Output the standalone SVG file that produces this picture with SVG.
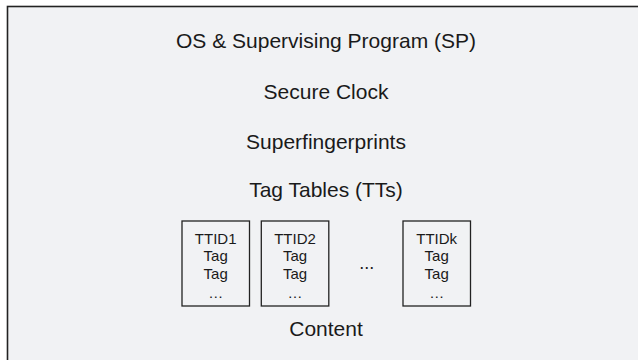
<svg xmlns="http://www.w3.org/2000/svg" width="638" height="360" viewBox="0 0 638 360">
  <style>
    .t { font-family: "Liberation Sans", Arial, sans-serif; fill: #1a1a1a; text-anchor: middle; }
    .big { font-size: 21px; }
    .small { font-size: 15px; }
    .box { fill: none; stroke: #222; stroke-width: 1.3; }
  </style>
  <rect width="638" height="360" fill="#ffffff"/>
  <g id="container">
    <rect x="7.5" y="6.5" width="640" height="360" fill="#f1f2f4" stroke="#222" stroke-width="1.6"/>
  </g>
  <g id="os">
    <text class="t big" x="326" y="48">OS &amp; Supervising Program (SP)</text>
  </g>
  <g id="clock">
    <text class="t big" x="326" y="99">Secure Clock</text>
  </g>
  <g id="superfingerprints">
    <text class="t big" x="326" y="149">Superfingerprints</text>
  </g>
  <g id="tagtables">
    <text class="t big" x="326" y="197">Tag Tables (TTs)</text>
  </g>
  <g id="tt1">
    <rect class="box" x="182" y="221" width="67.5" height="85"/>
    <text class="t small" x="215.7" y="243.5">TTID1</text>
    <text class="t small" x="215.7" y="261">Tag</text>
    <text class="t small" x="215.7" y="278.5">Tag</text>
    <text class="t small" x="215.7" y="298">…</text>
  </g>
  <g id="tt2">
    <rect class="box" x="261.3" y="221" width="67.5" height="85"/>
    <text class="t small" x="295" y="243.5">TTID2</text>
    <text class="t small" x="295" y="261">Tag</text>
    <text class="t small" x="295" y="278.5">Tag</text>
    <text class="t small" x="295" y="298">…</text>
  </g>
  <g id="ellipsis">
    <text class="t" x="366.7" y="268.5" font-size="18">...</text>
  </g>
  <g id="ttk">
    <rect class="box" x="403" y="221" width="67.5" height="85"/>
    <text class="t small" x="436.7" y="243.5">TTIDk</text>
    <text class="t small" x="436.7" y="261">Tag</text>
    <text class="t small" x="436.7" y="278.5">Tag</text>
    <text class="t small" x="436.7" y="298">…</text>
  </g>
  <g id="content">
    <text class="t big" x="326" y="336">Content</text>
  </g>
  <g id="connectors"/>
</svg>
